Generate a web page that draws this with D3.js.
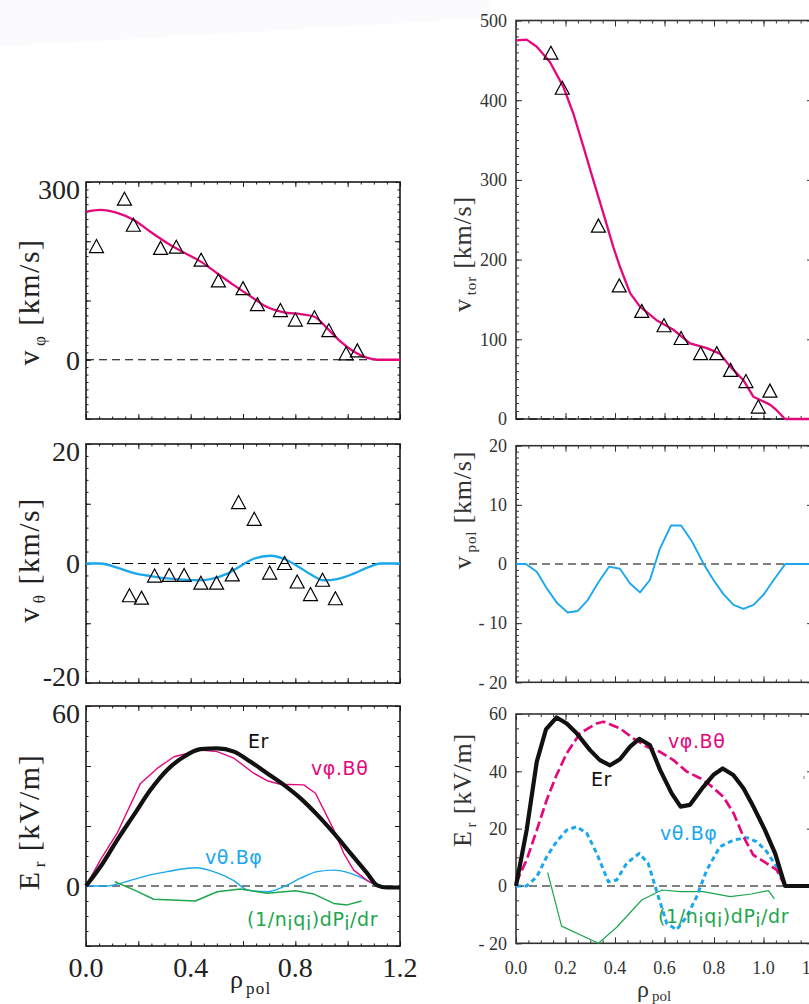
<html>
<head>
<script src="https://cdnjs.cloudflare.com/ajax/libs/d3/7.8.5/d3.min.js"></script>
<style>
  body { margin: 0; background: #fff; }
  svg { display: block; }
</style>
</head>
<body>
<script>
// ---- left column: v_phi (measured + fit) ----
const vphiMeasRho = [0.040, 0.147, 0.181, 0.285, 0.345, 0.440, 0.506, 0.600, 0.655, 0.743, 0.800, 0.873, 0.928, 0.994, 1.037];
const vphiMeas    = [191, 271, 227, 188, 190, 168, 133, 120, 93, 83, 67, 71, 49, 10, 15];
const vphiFitRho  = [0.0, 0.055, 0.119, 0.183, 0.246, 0.310, 0.374, 0.437, 0.501, 0.565, 0.629, 0.692, 0.756, 0.820, 0.871, 0.922, 0.972, 1.023, 1.075, 1.113, 1.2];
const vphiFit     = [250, 253, 248, 236, 216, 197, 181, 166, 146, 126, 107, 89, 80, 77, 73, 53, 31, 14, 3, 0, 0];

// ---- left column: v_theta ----
const vthMeasRho = [0.166, 0.212, 0.262, 0.318, 0.375, 0.439, 0.499, 0.559, 0.583, 0.643, 0.702, 0.759, 0.807, 0.858, 0.904, 0.953];
const vthMeas    = [-5.4, -5.8, -2.1, -2.0, -2.0, -3.3, -3.3, -1.9, 10.2, 7.4, -1.6, 0.0, -3.1, -5.2, -2.8, -5.9];
const vthFitRho  = [0.0, 0.055, 0.119, 0.183, 0.246, 0.310, 0.374, 0.425, 0.476, 0.540, 0.591, 0.641, 0.705, 0.756, 0.807, 0.858, 0.909, 0.960, 1.023, 1.075, 1.126, 1.2];
const vthFit     = [0, 0, -0.7, -1.6, -2.1, -2.5, -2.7, -2.8, -2.6, -1.7, -0.4, 0.8, 1.3, 0.8, -0.4, -1.8, -2.8, -2.6, -1.7, -0.7, 0, 0];

// ---- left column: Er balance ----
const erRhoL  = [0.0, 0.055, 0.119, 0.183, 0.246, 0.310, 0.374, 0.437, 0.501, 0.565, 0.629, 0.692, 0.756, 0.820, 0.884, 0.947, 1.011, 1.075, 1.113, 1.15, 1.2];
const erL     = [0, 6.4, 15.3, 23.7, 32, 38.7, 43.1, 45.6, 45.9, 44.8, 41.4, 37.6, 33.7, 29.2, 23.7, 17.6, 10.9, 4.2, 0.2, -0.5, -0.5];
const vpBtRhoL = [0.0, 0.055, 0.119, 0.208, 0.272, 0.336, 0.437, 0.501, 0.565, 0.641, 0.692, 0.743, 0.832, 0.877, 0.947, 0.985, 1.023, 1.075, 1.113];
const vpBtL    = [0, 8.7, 17.6, 34.2, 39.2, 43.1, 45.3, 44.8, 42.6, 37.6, 35.1, 33.9, 33.7, 30.9, 18.7, 10.9, 5.3, 1.8, 0];
const vtBpRhoL = [0.0, 0.074, 0.183, 0.246, 0.310, 0.418, 0.501, 0.565, 0.616, 0.692, 0.756, 0.820, 0.884, 0.947, 1.011, 1.075, 1.113];
const vtBpL    = [0, 0, 2.2, 3.7, 4.8, 6.1, 4.4, 1.8, -1.3, -1.9, -0.2, 2.6, 4.8, 5.3, 4.2, 1.8, 0];
const dpRhoL  = [0.110, 0.183, 0.259, 0.418, 0.501, 0.590, 0.692, 0.800, 0.871, 0.947, 0.998, 1.053];
const dpL     = [1.4, -1.3, -4.4, -5.0, -1.9, -1.0, -2.4, -1.6, -2.7, -5.8, -6.3, -5.0];

// ---- right column: v_tor ----
const vtorMeasRho = [0.141, 0.187, 0.333, 0.417, 0.508, 0.598, 0.667, 0.746, 0.811, 0.867, 0.929, 0.979, 1.026];
const vtorMeas    = [459, 415, 242, 167, 135, 117, 101, 82, 82, 61, 47, 15, 35];
const vtorFitRho  = [0.0, 0.043, 0.084, 0.137, 0.191, 0.232, 0.272, 0.312, 0.353, 0.393, 0.420, 0.461, 0.501, 0.568, 0.636, 0.703, 0.771, 0.824, 0.865, 0.918, 0.959, 1.026, 1.053, 1.087, 1.2];
const vtorFit     = [475, 476, 467, 448, 417, 383, 342, 300, 258, 216, 191, 158, 141, 124, 112, 95, 89, 82, 66, 49, 28, 18, 11, 0, 0];

// ---- right column: v_pol ----
const vpolRho = [0.0, 0.040, 0.084, 0.124, 0.167, 0.209, 0.249, 0.290, 0.333, 0.376, 0.420, 0.461, 0.501, 0.541, 0.582, 0.626, 0.667, 0.710, 0.757, 0.798, 0.838, 0.879, 0.919, 0.960, 1.000, 1.041, 1.088, 1.2];
const vpol    = [0, 0, -1.3, -4.1, -6.65, -8.2, -7.95, -6.1, -3.1, -0.45, -0.8, -3.3, -4.8, -2.7, 2.65, 6.5, 6.5, 3.9, 0.1, -2.7, -5.1, -6.9, -7.6, -6.9, -5.2, -2.7, 0, 0];

// ---- right column: Er balance ----
const erRhoR  = [0.0, 0.043, 0.084, 0.121, 0.164, 0.205, 0.245, 0.299, 0.339, 0.380, 0.420, 0.461, 0.498, 0.541, 0.582, 0.629, 0.665, 0.703, 0.757, 0.797, 0.835, 0.878, 0.919, 0.959, 1.006, 1.047, 1.087, 1.2];
const erR     = [0, 19.5, 43.4, 54.6, 58.8, 56.7, 53.3, 47.4, 43.9, 42.1, 44.2, 48.6, 51.3, 49.2, 40.5, 32.3, 27.7, 28.3, 34.6, 38.7, 41, 38.7, 34.1, 27.7, 19.5, 11.4, 0, 0];
const vpBtRhoR = [0.0, 0.043, 0.084, 0.124, 0.164, 0.205, 0.259, 0.326, 0.353, 0.420, 0.474, 0.528, 0.582, 0.636, 0.690, 0.744, 0.784, 0.838, 0.879, 0.919, 0.959, 1.013, 1.053, 1.087];
const vpBtR    = [1, 9.1, 19.5, 30, 38.7, 46.3, 53.3, 56.7, 57.3, 55, 51.5, 48.6, 46.8, 43.9, 39.9, 37.6, 35.2, 31.1, 25.4, 17.2, 10.8, 7.9, 5.6, 0];
const vtBpRhoR = [0.0, 0.043, 0.084, 0.124, 0.164, 0.205, 0.245, 0.286, 0.326, 0.373, 0.407, 0.447, 0.498, 0.534, 0.575, 0.609, 0.649, 0.690, 0.730, 0.771, 0.824, 0.878, 0.932, 0.972, 1.013, 1.053, 1.087];
const vtBpR    = [0, 0, 3.2, 10.2, 15.5, 19.5, 20.7, 18.4, 11.4, 1.5, 2.1, 7.9, 11.4, 7.9, -3.7, -13, -15.3, -10.7, -3.7, 5.6, 13.7, 16, 16.9, 15.5, 12, 6.7, 0.3];
const dpRhoR  = [0.128, 0.184, 0.333, 0.407, 0.508, 0.589, 0.663, 0.757, 0.865, 0.952, 1.020, 1.044];
const dpR     = [4.7, -14, -20, -14.4, -4.9, -1.4, -2, -2, -3.7, -2.8, -1.6, -4.5];

// tick labels
const xLabelsL = [0, 0.4, 0.8, 1.2];
const xLabelsR = [0, 0.2, 0.4, 0.6, 0.8, 1.0, 1.2];
const yLabelsL = [[300, 0], [20, 0, -20], [60, 0]];
const yLabelsR = [[500, 400, 300, 200, 100, 0], [20, 10, 0, -10, -20], [60, 40, 20, 0, -20]];

const PINK = '#e4087c', BLUE = '#1aa7ec', GREEN = '#1ea64f';
const SERIF = '"Liberation Serif", "DejaVu Serif", serif';
const SANS = '"DejaVu Sans", sans-serif';

const svg = d3.select('body').append('svg')
    .attr('width', 809)
    .attr('height', 1004);

// faint background sheen at the top-left
svg.append('path')
    .attr('d', 'M0,0 L490,0 L490,18 L0,47 Z')
    .attr('fill', '#fbfbfd');

const xL = d3.scaleLinear([0, 1.2], [86, 400]);
const xR = d3.scaleLinear([0, 1.2], [516, 813]);

const panelsL = [
    d3.scaleLinear([-100, 300], [419, 182]),
    d3.scaleLinear([-20, 20], [683, 444]),
    d3.scaleLinear([-20, 60], [946, 706])
];
const panelsR = [
    d3.scaleLinear([0, 500], [419, 20.5]),
    d3.scaleLinear([-20, 20], [682.3, 445.7]),
    d3.scaleLinear([-20, 60], [943.3, 714])
];

// inward ticks on all four sides plus the box
function frame(x, y, o) {
    const g = svg.append('g');
    const [x0, x1] = x.range();
    const [y0, y1] = y.range(); // y0 = bottom, y1 = top
    const sets = [[o.xMajor, o.yMajor, o.maj], [o.xMinor, o.yMinor, o.min]];
    sets.forEach(([xv, yv, len]) => {
        const mk = (axis, tr) => {
            const a = g.append('g').attr('transform', tr)
                .call(axis.tickSizeInner(-len).tickSizeOuter(0).tickFormat(''));
            a.select('.domain').remove();
            a.selectAll('line').attr('stroke', o.color).attr('stroke-width', 1);
        };
        mk(d3.axisBottom(x).tickValues(xv), `translate(0,${y0})`);
        mk(d3.axisTop(x).tickValues(xv), `translate(0,${y1})`);
        mk(d3.axisLeft(y).tickValues(yv), `translate(${x0},0)`);
        mk(d3.axisRight(y).tickValues(yv), `translate(${x1},0)`);
    });
    g.append('rect')
        .attr('x', x0).attr('y', y1)
        .attr('width', x1 - x0).attr('height', y0 - y1)
        .attr('fill', 'none')
        .attr('stroke', o.color)
        .attr('stroke-width', 1.6);
    return g;
}

function zeroLine(x, y) {
    svg.append('line')
        .attr('x1', x.range()[0]).attr('x2', x.range()[1])
        .attr('y1', y(0)).attr('y2', y(0))
        .attr('stroke', '#000')
        .attr('stroke-width', 1.1)
        .attr('stroke-dasharray', '8,5');
}

function curve(x, y, xs, ys, color, width, dash, smooth) {
    const line = d3.line()
        .x(d => x(d[0]))
        .y(d => y(d[1]))
        .curve(smooth ? d3.curveMonotoneX : d3.curveLinear);
    svg.append('path')
        .datum(d3.zip(xs, ys))
        .attr('d', line)
        .attr('fill', 'none')
        .attr('stroke', color)
        .attr('stroke-width', width)
        .attr('stroke-linejoin', 'round')
        .attr('stroke-dasharray', dash || null);
}

function triangles(x, y, xs, ys) {
    svg.append('g').selectAll('path')
        .data(d3.zip(xs, ys))
        .enter().append('path')
        .attr('transform', d => `translate(${x(d[0])},${y(d[1])})`)
        .attr('d', 'M0,-7 L7,6 L-7,6 Z')
        .attr('fill', 'none')
        .attr('stroke', '#000')
        .attr('stroke-width', 1.2);
}

// ---------- left column ----------
const step = (a, b, s) => d3.range(a, b + s / 2, s);
const leftMinor = [12.5, 2, 5];
const leftMajor = [100, 10, 20];
panelsL.forEach((y, i) => {
    const [lo, hi] = y.domain();
    frame(xL, y, {
        xMajor: step(0, 1.2, 0.2), xMinor: step(0, 1.2, 0.05),
        yMajor: step(lo, hi, leftMajor[i]), yMinor: step(lo, hi, leftMinor[i]),
        maj: 5, min: 2.5, color: '#1a1a1a'
    });
    const top = y.range()[1], bot = y.range()[0];
    svg.append('g').selectAll('text')
        .data(yLabelsL[i])
        .enter().append('text')
        .attr('x', 80)
        .attr('y', d => Math.min(Math.max(y(d), top + 7), bot - 7))
        .attr('dy', '0.35em')
        .attr('text-anchor', 'end')
        .attr('font-family', SERIF)
        .attr('font-size', 28)
        .attr('fill', '#222')
        .text(d => d);
});

svg.append('g').selectAll('text')
    .data(xLabelsL)
    .enter().append('text')
    .attr('x', d => xL(d))
    .attr('y', 977)
    .attr('text-anchor', 'middle')
    .attr('font-family', SERIF)
    .attr('font-size', 28)
    .attr('fill', '#222')
    .text(d => d3.format('.1f')(d));

// panel 1
zeroLine(xL, panelsL[0]);
curve(xL, panelsL[0], vphiFitRho, vphiFit, PINK, 2.3, null, true);
triangles(xL, panelsL[0], vphiMeasRho, vphiMeas);
// panel 2
zeroLine(xL, panelsL[1]);
curve(xL, panelsL[1], vthFitRho, vthFit, BLUE, 2.3, null, true);
triangles(xL, panelsL[1], vthMeasRho, vthMeas);
// panel 3
zeroLine(xL, panelsL[2]);
curve(xL, panelsL[2], vtBpRhoL, vtBpL, BLUE, 1.4, null, true);
curve(xL, panelsL[2], dpRhoL, dpL, GREEN, 1.5);
curve(xL, panelsL[2], vpBtRhoL, vpBtL, PINK, 1.4);
curve(xL, panelsL[2], erRhoL, erL, '#111', 4.2, null, true);

// ---------- right column ----------
const rightMinor = [10, 1, 5];
const rightMajor = [100, 10, 20];
panelsR.forEach((y, i) => {
    const [lo, hi] = y.domain();
    frame(xR, y, {
        xMajor: step(0, 1.2, 0.2), xMinor: step(0, 1.2, 0.05),
        yMajor: step(lo, hi, rightMajor[i]), yMinor: step(lo, hi, rightMinor[i]),
        maj: 6, min: 3, color: '#333'
    });
    svg.append('g').selectAll('text')
        .data(yLabelsR[i])
        .enter().append('text')
        .attr('x', 507)
        .attr('y', d => y(d))
        .attr('dy', '0.35em')
        .attr('text-anchor', 'end')
        .attr('font-family', SERIF)
        .attr('font-size', 18)
        .attr('fill', '#333')
        .text(d => d < 0 ? '- ' + Math.abs(d) : d);
});

svg.append('g').selectAll('text')
    .data(xLabelsR)
    .enter().append('text')
    .attr('x', d => xR(d))
    .attr('y', 974)
    .attr('text-anchor', 'middle')
    .attr('font-family', SERIF)
    .attr('font-size', 18)
    .attr('fill', '#333')
    .text(d => d3.format('.1f')(d));

// panel 1
zeroLine(xR, panelsR[0]);
curve(xR, panelsR[0], vtorFitRho, vtorFit, PINK, 2.3);
triangles(xR, panelsR[0], vtorMeasRho, vtorMeas);
// panel 2
zeroLine(xR, panelsR[1]);
curve(xR, panelsR[1], vpolRho, vpol, BLUE, 1.9);
// panel 3
zeroLine(xR, panelsR[2]);
curve(xR, panelsR[2], dpRhoR, dpR, GREEN, 1.2);
curve(xR, panelsR[2], vtBpRhoR, vtBpR, BLUE, 3, '5,3.5');
curve(xR, panelsR[2], vpBtRhoR, vpBtR, PINK, 2.7, '10,4');
curve(xR, panelsR[2], erRhoR, erR, '#111', 4.2);

// ---------- titles ----------
function yTitle(cx, cy, main, sub, rest, fs, subFs, color, ls) {
    const t = svg.append('text')
        .attr('transform', `translate(${cx},${cy}) rotate(-90)`)
        .attr('text-anchor', 'middle')
        .attr('font-family', SERIF)
        .attr('font-size', fs)
        .attr('letter-spacing', ls)
        .attr('fill', color);
    t.append('tspan').text(main);
    t.append('tspan').attr('font-size', subFs).attr('dy', fs * 0.2).attr('dx', 3).text(sub);
    t.append('tspan').attr('dy', -fs * 0.2).text(rest);
}
yTitle(39, 302, 'v', 'φ', ' [km/s]', 30, 17, '#222', 1.5);
yTitle(39, 560, 'v', 'θ', ' [km/s]', 30, 17, '#222', 1.5);
yTitle(39, 822, 'E', 'r', ' [kV/m]', 30, 17, '#222', 1.5);
yTitle(471, 254, 'v', 'tor', ' [km/s]', 26, 15, '#333', 0.8);
yTitle(471, 510, 'v', 'pol', ' [km/s]', 26, 15, '#333', 0.8);
yTitle(471, 790, 'E', 'r', ' [kV/m]', 26, 15, '#333', 0.8);

function xTitle(x, y, fs, subFs, subDy, color, ls) {
    const t = svg.append('text')
        .attr('x', x).attr('y', y)
        .attr('font-family', SERIF)
        .attr('font-size', fs)
        .attr('fill', color);
    t.append('tspan').text('ρ');
    t.append('tspan').attr('font-size', subFs).attr('dy', subDy).attr('dx', 3)
        .attr('letter-spacing', ls).text('pol');
}
xTitle(230, 988, 26, 17, 6, '#222', 1.2);
xTitle(637, 997, 24, 15, 4, '#333', 0);

// ---------- curve labels ----------
function label(x, y, color, parts) {
    const t = svg.append('text')
        .attr('x', x).attr('y', y)
        .attr('font-family', SANS)
        .attr('font-size', 19)
        .attr('letter-spacing', 0.6)
        .attr('fill', color);
    let shifted = false;
    parts.forEach(p => {
        const sub = p.startsWith('_');
        const dy = sub && !shifted ? 4 : (!sub && shifted ? -4 : 0);
        shifted = sub;
        t.append('tspan').attr('dy', dy || null).text(sub ? p.slice(1) : p);
    });
}
const dpParts = ['(1/n', '_i', 'q', '_i', ')dP', '_i', '/dr'];
label(248, 748, '#111', ['Er']);
label(311, 775, PINK, ['vφ.Bθ']);
label(205, 864, BLUE, ['vθ.Bφ']);
label(247, 926, GREEN, dpParts);
label(591, 786, '#111', ['Er']);
label(668, 748, PINK, ['vφ.Bθ']);
label(660, 840, BLUE, ['vθ.Bφ']);
label(658, 923, GREEN, dpParts);

// stray subscript from the next panel
svg.append('text')
    .attr('x', 803).attr('y', 779)
    .attr('font-family', SERIF)
    .attr('font-size', 7)
    .attr('fill', '#555')
    .text('r');
</script>
</body>
</html>
